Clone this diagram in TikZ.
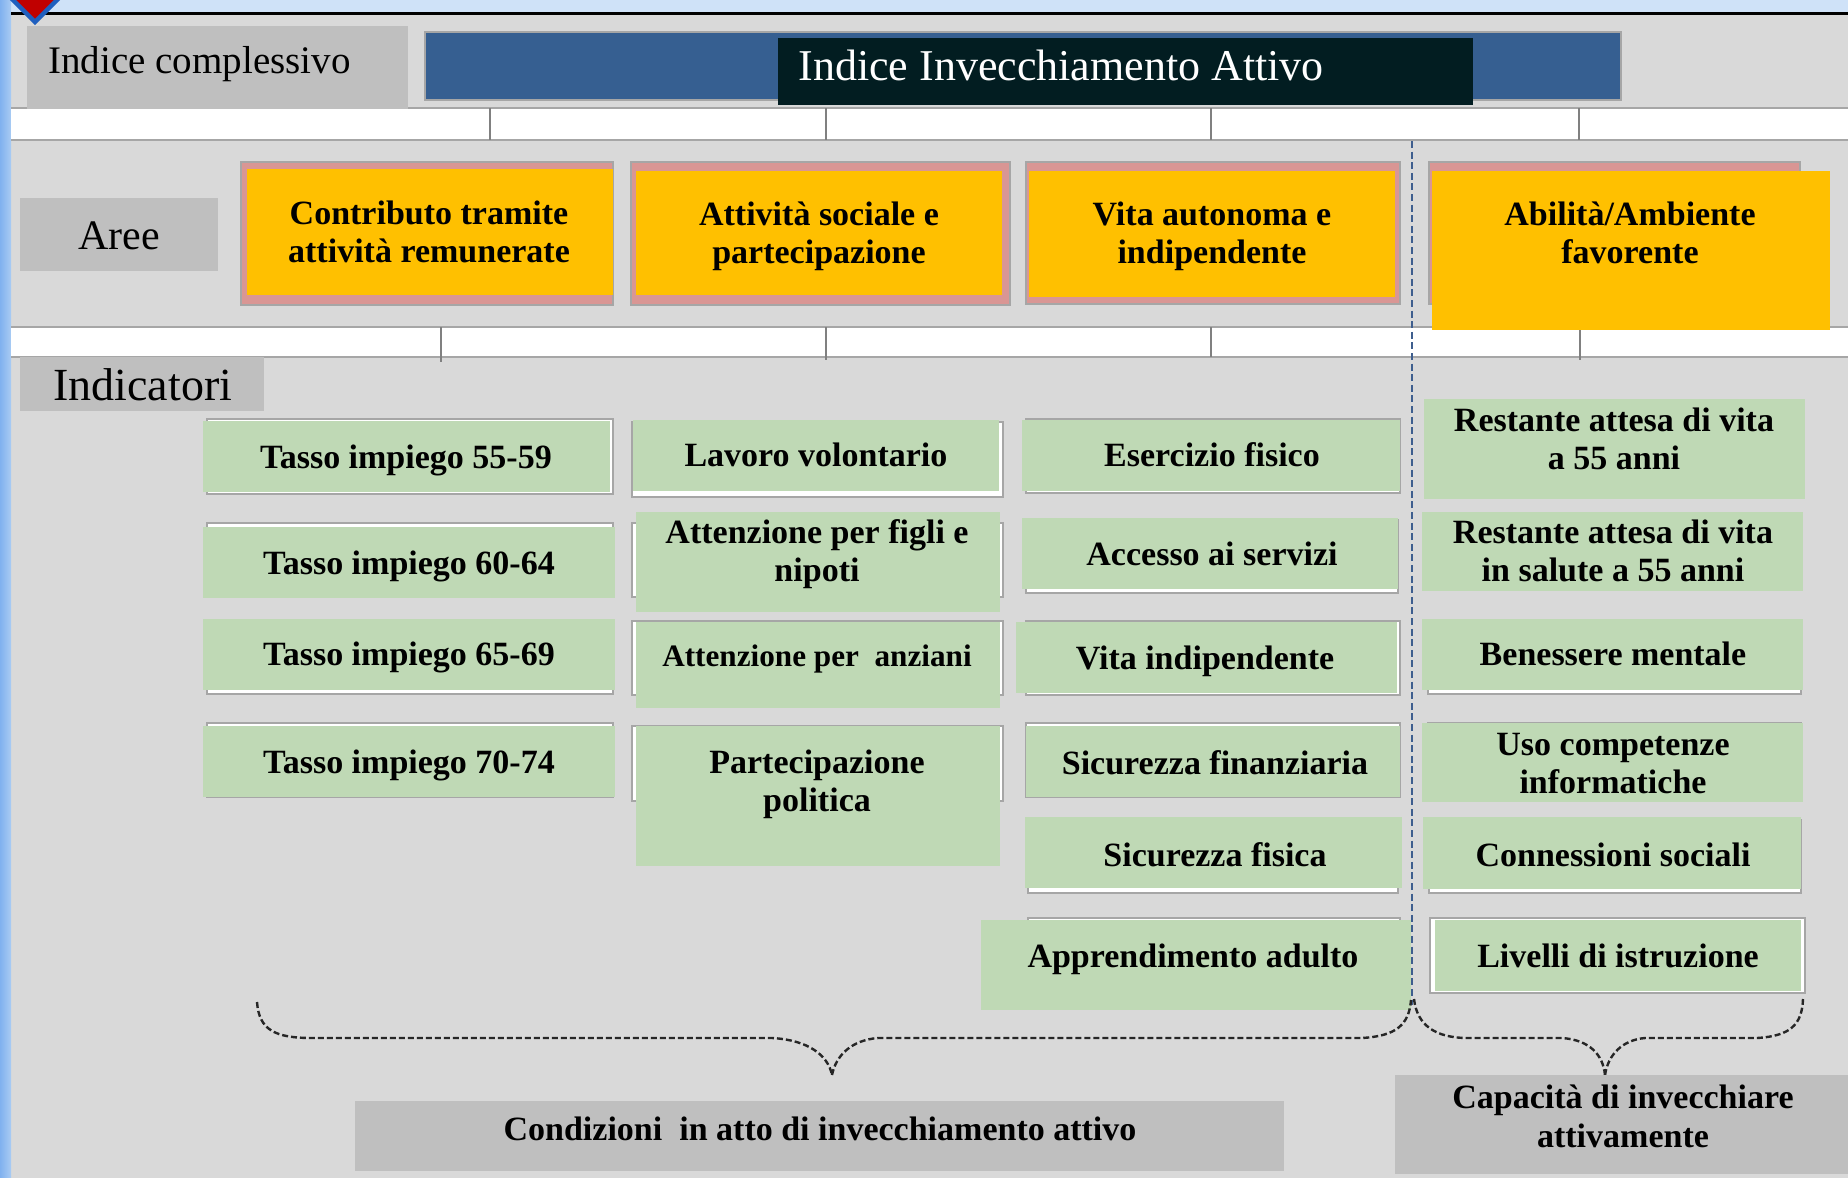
\documentclass[tikz,border=0pt]{standalone}
\usepackage{fontspec}
\setmainfont{Liberation Serif}
\definecolor{bgg}{HTML}{D9D9D9}
\definecolor{boxg}{HTML}{BFBFBF}
\definecolor{topblue}{HTML}{CFE2F8}
\definecolor{stripblue}{HTML}{A9CBF3}
\definecolor{stripdark}{HTML}{5E9CEB}
\definecolor{barblue}{HTML}{365F91}
\definecolor{titledark}{HTML}{021D21}
\definecolor{orangec}{HTML}{FFC000}
\definecolor{pinkc}{HTML}{D99694}
\definecolor{greenc}{HTML}{BFD9B5}
\definecolor{framec}{HTML}{A6A6A6}
\definecolor{dashblue}{HTML}{3E5E8E}
\definecolor{diamred}{HTML}{C00000}
\definecolor{diamblue}{HTML}{1F5FBF}
\begin{document}
\begin{tikzpicture}[x=0.5pt,y=-0.5pt,
  gbox/.style={fill=greenc},
  frm/.style={fill=white, draw=framec, line width=0.75pt},
  pinkbox/.style={fill=pinkc, draw=framec, line width=0.6pt},
  obox/.style={fill=orangec},
  bandline/.style={draw=framec, line width=0.8pt},
  tick/.style={draw=gray, line width=1pt},
  btxt/.style={font=\fontsize{17}{19}\selectfont\bfseries, align=center, inner sep=0pt, text=black, yshift=-1pt},
  btwo/.style={btxt, yshift=-0.9pt},
  brace/.style={draw=black!85, line width=1.2pt, dash pattern=on 3pt off 1.5pt}]
\useasboundingbox (0,0) rectangle (1848,1178);
% background
\fill[bgg] (0,0) rectangle (1848,1178);
\fill[topblue] (0,0) rectangle (1848,12);
\shade[left color=stripdark!70!topblue, right color=stripblue] (0,0) rectangle (11,1178);
\fill[black] (11,12) rectangle (1848,15);
\draw[fill=diamred, draw=diamblue, line width=2.2pt] (35,22) -- (62,-5) -- (35,-32) -- (8,-5) -- cycle;
% bands
\fill[white] (11,108) rectangle (1848,140);
\draw[bandline] (11,108) -- (1848,108) (11,140) -- (1848,140);
\draw[tick] (490,108) -- (490,140);
\draw[tick] (826,108) -- (826,140);
\draw[tick] (1211,108) -- (1211,140);
\draw[tick] (1579,108) -- (1579,140);
\fill[white] (11,327) rectangle (1848,357);
\draw[bandline] (11,327) -- (1848,327) (11,357) -- (1848,357);
\draw[tick] (441,327) -- (441,362);
\draw[tick] (826,327) -- (826,360);
\draw[tick] (1211,327) -- (1211,357);
\draw[tick] (1580,327) -- (1580,360);
% header
\fill[boxg] (27,26) rectangle (408,109);
\node[anchor=base west, inner sep=0pt, font=\fontsize{19.5}{22}\selectfont] (ic) at (48,73) {Indice complessivo};
\draw[fill=barblue, draw=framec, line width=0.75pt] (425,32) rectangle (1621,100);
\fill[titledark] (778,38) rectangle (1473,105);
\node[anchor=base west, inner sep=0pt, text=white, font=\fontsize{22}{24}\selectfont] (iia) at (798,80) {Indice Invecchiamento Attivo};
\fill[boxg] (20,198) rectangle (218,271);
\node[anchor=base, inner sep=0pt, font=\fontsize{21}{24}\selectfont] (aree) at (119,249) {Aree};
\fill[boxg] (20,357) rectangle (264,411);
\node[anchor=base west, inner sep=0pt, font=\fontsize{23}{25}\selectfont] (ind) at (53,400) {Indicatori};
% areas
\draw[pinkbox] (241,162) rectangle (613,305);
\fill[obox] (247,169) rectangle (613,295);
\node[btwo] (a1) at (429,228.5) {Contributo tramite\\attività remunerate};
\draw[pinkbox] (631,162) rectangle (1010,305);
\fill[obox] (636,171) rectangle (1002,295);
\node[btwo] (a2) at (819,233) {Attività sociale e\\partecipazione};
\draw[pinkbox] (1026,162) rectangle (1400,304);
\fill[obox] (1029,171) rectangle (1395,297);
\node[btwo] (a3) at (1212,233) {Vita autonoma e\\indipendente};
\draw[pinkbox] (1429,162) rectangle (1800,304);
\fill[obox] (1432,171) rectangle (1830,330);
\node[btwo] (a4) at (1630,229.5) {Abilità/Ambiente\\favorente};
% column 1
\draw[frm] (207,419) rectangle (613,494);
\fill[gbox] (203,421) rectangle (610,492);
\node[btxt] (c11) at (406,458) {Tasso impiego 55-59};
\draw[frm] (207,523) rectangle (613,597);
\fill[gbox] (203,527) rectangle (615,598);
\node[btxt] (c12) at (409,564) {Tasso impiego 60-64};
\draw[frm] (207,620) rectangle (613,694);
\fill[gbox] (203,619) rectangle (615,690);
\node[btxt] (c13) at (409,655) {Tasso impiego 65-69};
\draw[frm] (207,723) rectangle (613,797);
\fill[gbox] (203,726) rectangle (615,797);
\node[btxt] (c14) at (409,763) {Tasso impiego 70-74};
% column 2
\draw[frm] (632,422) rectangle (1003,497);
\fill[gbox] (633,420) rectangle (999,491);
\node[btxt] (c21) at (816,452.5) {Lavoro volontario};
\draw[frm] (632,523) rectangle (1003,597);
\fill[gbox] (636,512) rectangle (1000,612);
\node[btwo] (c22) at (817,550.6) {Attenzione per figli e\\nipoti};
\draw[frm] (632,621) rectangle (1003,695);
\fill[gbox] (636,622) rectangle (1000,708);
\node[btxt, font=\fontsize{15.6}{18}\selectfont\bfseries] (c23) at (817,657) {Attenzione per\ \ anziani};
\draw[frm] (632,726) rectangle (1003,801);
\fill[gbox] (636,726) rectangle (1000,866);
\node[btwo] (c24) at (817,781) {Partecipazione\\politica};
% column 3
\draw[frm] (1026,419) rectangle (1400,493);
\fill[gbox] (1022,420) rectangle (1400,491);
\node[btxt] (c31) at (1212,452.5) {Esercizio fisico};
\draw[frm] (1026,520) rectangle (1398,593);
\fill[gbox] (1022,518) rectangle (1398,589);
\node[btxt] (c32) at (1212,551.6) {Accesso ai servizi};
\draw[frm] (1026,621) rectangle (1400,695);
\fill[gbox] (1016,622) rectangle (1397,693);
\node[btxt] (c33) at (1205,659) {Vita indipendente};
\draw[frm] (1026,723) rectangle (1400,797);
\fill[gbox] (1026,726) rectangle (1400,797);
\node[btxt] (c34) at (1215,760.6) {Sicurezza finanziaria};
\draw[frm] (1028,820) rectangle (1398,893);
\fill[gbox] (1025,817) rectangle (1402,888);
\node[btxt] (c35) at (1215,852.6) {Sicurezza fisica};
\draw[frm] (1028,918) rectangle (1400,990);
\fill[gbox] (981,920) rectangle (1411,1010);
\node[btxt] (c36) at (1193,957) {Apprendimento adulto};
% column 4
\fill[gbox] (1424,399) rectangle (1805,499);
\node[btwo] (c41) at (1614,435) {Restante attesa di vita\\a 55 anni};
\fill[gbox] (1422,512) rectangle (1803,591);
\node[btwo] (c42) at (1613,547) {Restante attesa di vita\\in salute a 55 anni};
\draw[frm] (1428,620) rectangle (1801,694);
\fill[gbox] (1422,619) rectangle (1803,690);
\node[btxt] (c43) at (1613,651.5) {Benessere mentale};
\draw[frm] (1428,723) rectangle (1801,800);
\fill[gbox] (1422,723) rectangle (1803,802);
\node[btwo] (c44) at (1613,759.5) {Uso competenze\\informatiche};
\draw[frm] (1429,820) rectangle (1801,893);
\fill[gbox] (1423,817) rectangle (1801,889);
\node[btxt] (c45) at (1613,852.6) {Connessioni sociali};
\draw[frm] (1430,918) rectangle (1805,993);
\fill[gbox] (1435,920) rectangle (1801,991);
\node[btxt] (c46) at (1618,953.6) {Livelli di istruzione};
% dashed separator
\draw[draw=dashblue, line width=0.8pt, dash pattern=on 3.5pt off 1.8pt] (1412,141) -- (1412,1005);
% braces
\coordinate (b1) at (832,1075);
\coordinate (b2) at (1605,1075);
\draw[brace] (257,1002) .. controls (259,1030) and (275,1038) .. (312,1038) -- (772,1038) .. controls (808,1040) and (828,1055) .. (b1);
\draw[brace] (b1) .. controls (836,1055) and (852,1040) .. (878,1038) -- (1362,1038) .. controls (1396,1036) and (1409,1025) .. (1411,1000);
\draw[brace] (1414,999) .. controls (1417,1025) and (1435,1038) .. (1468,1038) -- (1562,1038) .. controls (1590,1040) and (1603,1055) .. (b2);
\draw[brace] (b2) .. controls (1608,1055) and (1622,1040) .. (1645,1038) -- (1757,1038) .. controls (1790,1036) and (1802,1025) .. (1803,999);
% bottom boxes
\fill[boxg] (355,1101) rectangle (1284,1171);
\node[btxt] (cond) at (820,1126.5) {Condizioni\ \ in atto di invecchiamento attivo};
\fill[boxg] (1395,1075) rectangle (1848,1174);
\node[btwo, font=\fontsize{17}{19.5}\selectfont\bfseries] (cap) at (1623,1112.6) {Capacità di invecchiare\\attivamente};
\end{tikzpicture}
\end{document}
